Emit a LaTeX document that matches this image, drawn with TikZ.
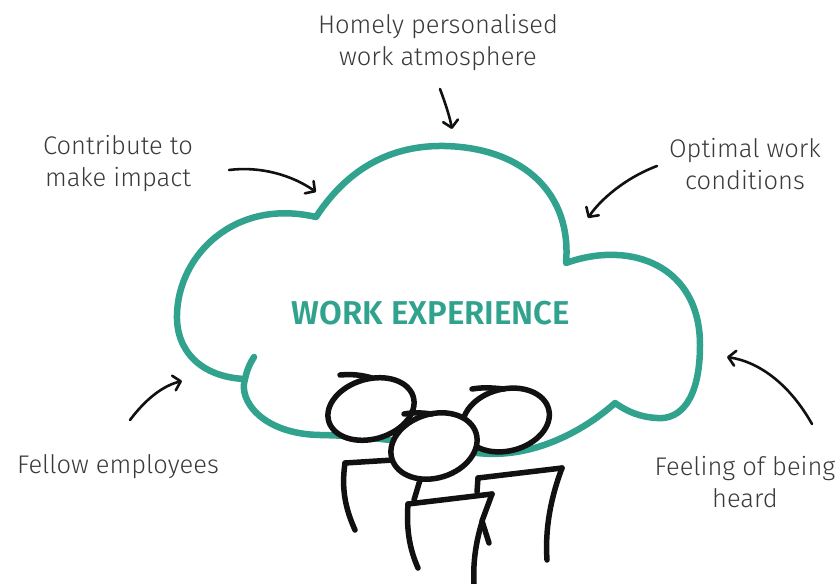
\documentclass[tikz,border=0pt]{standalone}
\usepackage{fontspec}
\setmainfont{Fira Sans}[UprightFont={* Light}, BoldFont={* SemiBold}]
\usetikzlibrary{arrows.meta}
\definecolor{cloudteal}{HTML}{30A28E}
\definecolor{labelgray}{HTML}{3A3A3A}
\definecolor{inkblack}{HTML}{111111}
\tikzset{
  label/.style={text=labelgray, align=center, font=\fontsize{25.5}{32}\selectfont},
  pointer/.style={draw=inkblack, line width=2.6pt, line cap=round, line join=round,
    -{Straight Barb[length=7pt, width=15pt, line width=2.6pt, round]}},
  outline/.style={draw=cloudteal, line width=6.5pt, line join=round, line cap=round},
  ink/.style={draw=inkblack, line width=5.5pt, line cap=round, line join=round},
  head/.style={ink, fill=white},
}
\begin{document}
\begin{tikzpicture}[x=1pt, y=-1pt]
\useasboundingbox (0,0) rectangle (836,584);

% cloud
\path[outline]
  (245,379) .. controls (200,377) and (176,350) .. (177,315)
  .. controls (178,255) and (235,198) .. (316,217)
  .. controls (350,165) and (395,145) .. (445,146)
  .. controls (525,148) and (572,195) .. (566,263)
  .. controls (630,240) and (700,265) .. (700,345)
  .. controls (700,400) and (680,420) .. (657,418)
  .. controls (640,417) and (628,412) .. (615,403)
  .. controls (585,430) and (530,462) .. (470,452)
  .. controls (430,446) and (380,436) .. (320,435)
  .. controls (262,434) and (238,400) .. (245,379)
  .. controls (247,370) and (250,363) .. (254,357);

\node (title) at (431,313) {\textcolor{cloudteal}{\fontsize{33}{38}\selectfont\bfseries WORK EXPERIENCE}};

% labels
\node[label] (homely) at (438,43) {Homely personalised\\work atmosphere};
\node[label] (contribute) at (118,164) {Contribute to\\make impact};
\node[label] (optimal) at (745,164) {Optimal work\\conditions};
\node[label] (fellow) at (118,467) {Fellow employees};
\node[label] (heard) at (745,482) {Feeling of being\\heard};

% arrow ends
\coordinate (a1s) at (440,89);  \coordinate (a1e) at (452,129);
\coordinate (a2s) at (229,170); \coordinate (a2e) at (316,192);
\coordinate (a3s) at (657,166); \coordinate (a3e) at (588,218);
\coordinate (a4s) at (130,420); \coordinate (a4e) at (182,381);
\coordinate (a5s) at (812,424); \coordinate (a5e) at (727,357);

\draw[pointer] (a1s) .. controls (446,105) and (450,118) .. (a1e);
\draw[pointer] (a2s) .. controls (260,166) and (292,175) .. (a2e);
\draw[pointer] (a3s) .. controls (625,178) and (600,200) .. (a3e);
\draw[pointer] (a4s) .. controls (145,400) and (162,386) .. (a4e);
\draw[pointer] (a5s) .. controls (790,385) and (760,362) .. (a5e);

% bodies
\draw[ink] (345,463) -- (393,460);
\draw[ink] (345,463) .. controls (341,490) and (346,510) .. (355,530);
\draw[ink] (420,480) -- (414,500);
\draw[ink] (408,504) -- (492,494);
\draw[ink] (408,504) .. controls (406,530) and (410,550) .. (418,568);
\draw[ink] (492,494) -- (482,521) -- (489,543);
\draw[ink] (478,478) -- (477,492);
\draw[ink] (478,478) -- (562,468);
\draw[ink] (562,468) .. controls (550,500) and (545,530) .. (547,560);
\draw[ink] (482,522) .. controls (475,545) and (473,565) .. (474,584);

% heads
\draw[head, rotate around={16:(371,409)}] (371,409) ellipse (44pt and 30pt);
\draw[ink] (340,375) .. controls (352,374) and (362,375) .. (372,378);
\draw[head, rotate around={14:(506,420)}] (506,420) ellipse (44pt and 31pt);
\draw[ink] (472,389) .. controls (484,387) and (494,388) .. (504,389);
\draw[head, rotate around={17:(434,446)}] (434,446) ellipse (44pt and 32pt);
\draw[ink] (404,414) .. controls (414,412) and (424,413) .. (432,414);
\end{tikzpicture}
\end{document}
